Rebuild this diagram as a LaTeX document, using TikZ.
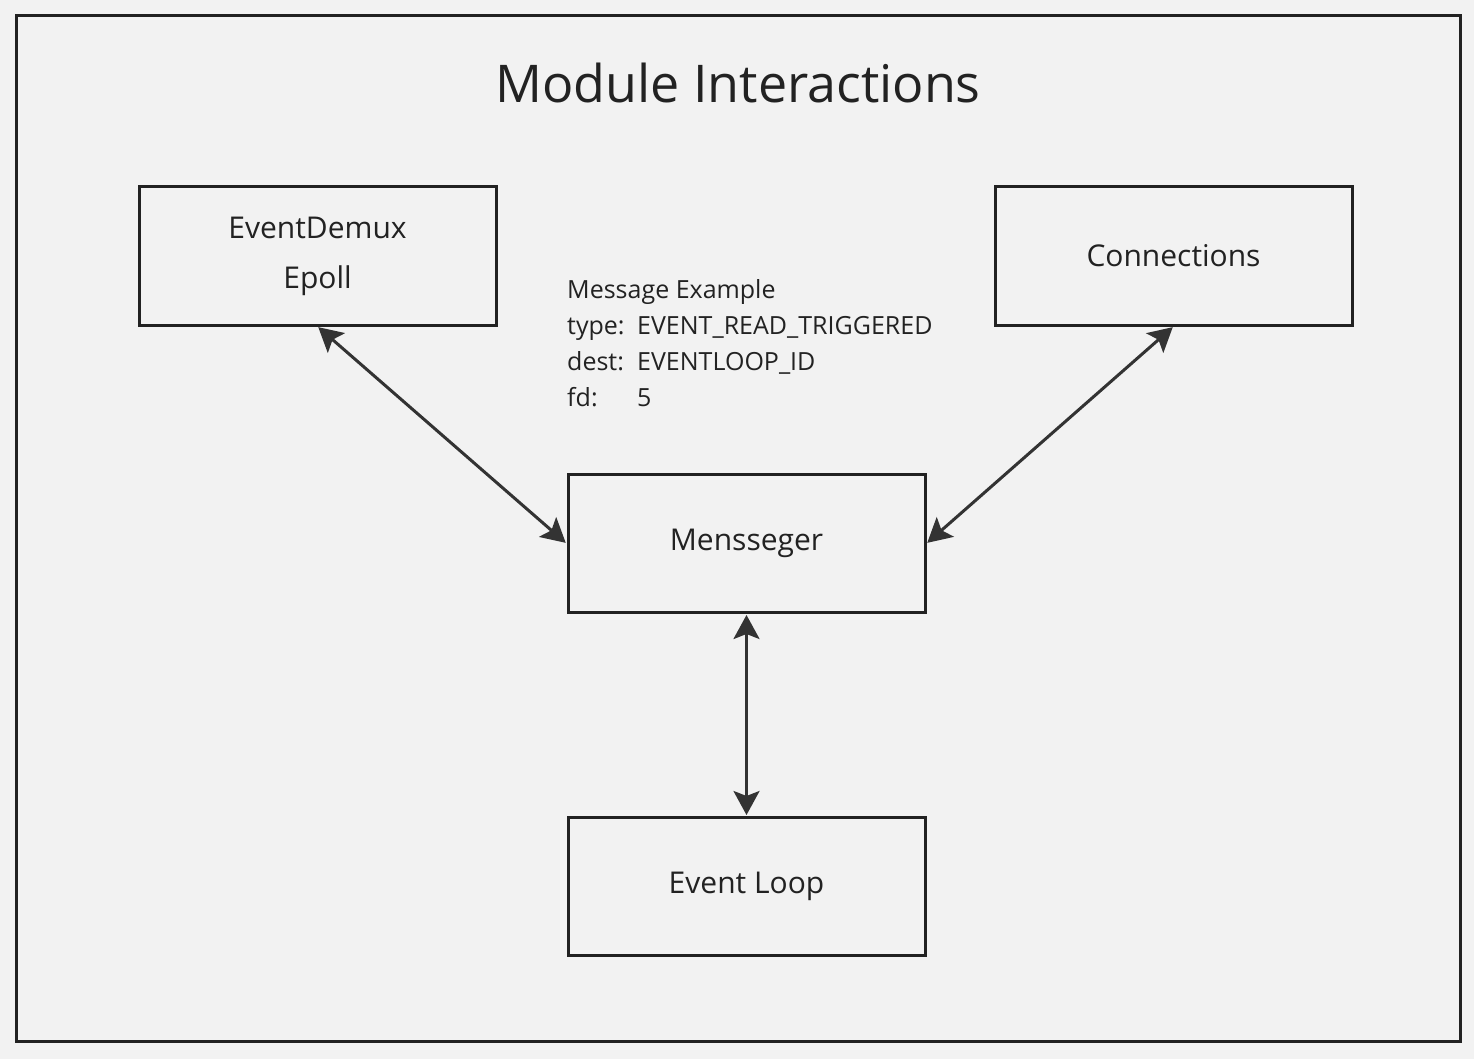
\documentclass[tikz,border=0pt]{standalone}
\usepackage{fontspec}
\setmainfont{Open Sans}
\usetikzlibrary{arrows.meta}
\definecolor{bg}{HTML}{F2F2F2}
\definecolor{ink}{HTML}{222222}
\definecolor{arr}{HTML}{333333}
\tikzset{
  modbox/.style={draw=ink, line width=3pt, fill=bg, minimum width=357pt, minimum height=138pt,
    inner sep=0pt, align=center, text=ink, font=\fontsize{30}{50}\selectfont},
  link/.style={draw=arr, line width=3pt, {Stealth[length=24pt,width=26pt,inset=5pt]}-{Stealth[length=24pt,width=26pt,inset=5pt]}, shorten <=1pt, shorten >=1pt}
}
\begin{document}
\begin{tikzpicture}[x=1pt,y=-1pt]
\useasboundingbox (0,0) rectangle (1474,1059);
\fill[bg] (0,0) rectangle (1474,1059);
\draw[ink, line width=3pt] (16,16) rectangle (1460,1041);
\node[anchor=base, text=ink, font=\fontsize{52}{60}\selectfont] (title) at (738,103) {Module Interactions};
\node[modbox] (demux) at (317.5,256) {EventDemux\\Epoll};
\node[modbox] (conn) at (1173.5,256) {Connections};
\node[modbox] (msg) at (746.5,543.5) {Mensseger};
\node[modbox] (loop) at (746.5,886.5) {Event Loop};
\node[anchor=base west, align=left, text=ink, inner sep=0pt, font=\fontsize{25}{35.7}\selectfont] (example) at (567,406)
  {Message Example\\
   \makebox[70pt][l]{type:}EVENT\_READ\_TRIGGERED\\
   \makebox[70pt][l]{dest:}EVENTLOOP\_ID\\
   \makebox[70pt][l]{fd:}5};
\draw[link] (demux.south) -- (msg.west);
\draw[link] (conn.south) -- (msg.east);
\draw[link] (msg.south) -- (loop.north);
\end{tikzpicture}
\end{document}
